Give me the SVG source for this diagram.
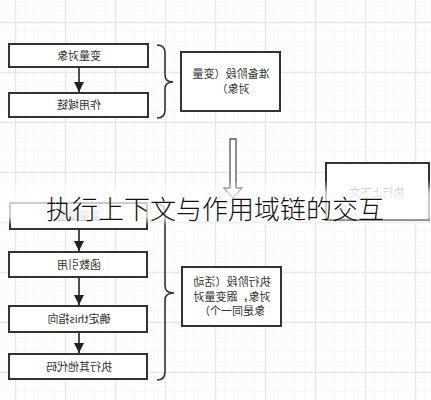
<svg xmlns="http://www.w3.org/2000/svg" width="431" height="400" viewBox="0 0 431 400">
<defs>
<pattern id="minor" width="10" height="10" patternUnits="userSpaceOnUse" x="5" y="2">
<path d="M10,0 V10 M0,10 H10" fill="none" stroke="#f3f3f3" stroke-width="1"/>
</pattern>
<pattern id="major" width="50" height="50" patternUnits="userSpaceOnUse" x="15" y="22">
<path d="M0.5,0 V50 M0,0.5 H50" fill="none" stroke="#e8e8e8" stroke-width="1.5"/>
</pattern>
<marker id="ah" viewBox="0 0 10 10" refX="10" refY="5" markerWidth="10" markerHeight="10" markerUnits="userSpaceOnUse" orient="auto">
<path d="M0,0 L10,5 L0,10 Z" fill="#222"/>
</marker>
<linearGradient id="fade" x1="0" y1="0" x2="0" y2="1">
<stop offset="0" stop-color="#fff" stop-opacity="0"/>
<stop offset="0.3" stop-color="#fff" stop-opacity="0.75"/>
<stop offset="0.8" stop-color="#fff" stop-opacity="0.75"/>
<stop offset="1" stop-color="#fff" stop-opacity="0"/>
</linearGradient>
</defs>
<style>
.box{fill:#fff;stroke:#333;stroke-width:2}
.lbl{font-family:"Noto Sans CJK SC","Noto Sans",sans-serif;font-size:11px;fill:#333;text-anchor:middle}
.brace{fill:none;stroke:#333;stroke-width:1.6}
.edge{stroke:#222;stroke-width:1.6;fill:none}
</style>
<rect width="431" height="400" fill="#fff"/>
<rect width="431" height="400" fill="url(#minor)"/>
<rect width="431" height="400" fill="url(#major)"/>

<g id="connectors">
<line class="edge" x1="79" y1="67" x2="79" y2="92" marker-end="url(#ah)"/>
<line class="edge" x1="79" y1="229" x2="79" y2="251" marker-end="url(#ah)"/>
<line class="edge" x1="79" y1="277" x2="79" y2="305" marker-end="url(#ah)"/>
<line class="edge" x1="79" y1="332" x2="79" y2="353" marker-end="url(#ah)"/>
<path class="brace" d="M157,45 Q165,45 165,53 L165,75 Q165,82 173,82 Q165,82 165,89 L165,110 Q165,118 157,118"/>
<path class="brace" d="M157,204 Q165,204 165,212 L165,286 Q165,293 174,293 Q165,293 165,300 L165,372 Q165,380 157,380"/>
<path d="M230,139 H236 V188 H242 L233,198 L224,188 H230 Z" fill="#fff" stroke="#555" stroke-width="1.3"/>
</g>

<g id="n-varobj"><rect class="box" x="9" y="44" width="139" height="23"/><text class="lbl" transform="scale(-1,1)" x="-79" y="59.5">变量对象</text></g>
<g id="n-scope"><rect class="box" x="9" y="93" width="139" height="24"/><text class="lbl" transform="scale(-1,1)" x="-79" y="109">作用域链</text></g>
<g id="n-prep"><rect class="box" x="181" y="52" width="99" height="59"/><text class="lbl" transform="scale(-1,1)" x="-231" y="78">准备阶段（变量</text><text class="lbl" transform="scale(-1,1)" x="-233" y="93">对象）</text></g>
<g id="n-ctx"><rect class="box" x="326" y="163" width="103" height="57" stroke="#555"/><text class="lbl" transform="scale(-1,1)" x="-377" y="197" style="fill:#999">执行上下文</text></g>
<g id="n-assign"><rect class="box" x="10" y="203" width="137" height="26"/><text class="lbl" transform="scale(-1,1)" x="-79" y="220" style="fill:#999">变量赋值</text></g>
<g id="n-funcref"><rect class="box" x="9" y="252" width="138" height="25"/><text class="lbl" transform="scale(-1,1)" x="-79" y="268.5">函数引用</text></g>
<g id="n-this"><rect class="box" x="9" y="306" width="138" height="26"/><text class="lbl" transform="scale(-1,1)" x="-79" y="323">确定this指向</text></g>
<g id="n-other"><rect class="box" x="9" y="354" width="138" height="25"/><text class="lbl" transform="scale(-1,1)" x="-79" y="370.5">执行其他代码</text></g>
<g id="n-exec"><rect class="box" x="182" y="267" width="99" height="59"/><text class="lbl" transform="scale(-1,1)" x="-232" y="286">执行阶段（活动</text><text class="lbl" transform="scale(-1,1)" x="-232" y="300.5">对象，跟变量对</text><text class="lbl" transform="scale(-1,1)" x="-232" y="315">象是同一个）</text></g>

<rect x="0" y="180" width="431" height="46" fill="url(#fade)"/>
<text x="215" y="219" text-anchor="middle" font-family="Noto Sans CJK SC, sans-serif" font-weight="300" font-size="26" fill="#111">执行上下文与作用域链的交互</text>
</svg>
